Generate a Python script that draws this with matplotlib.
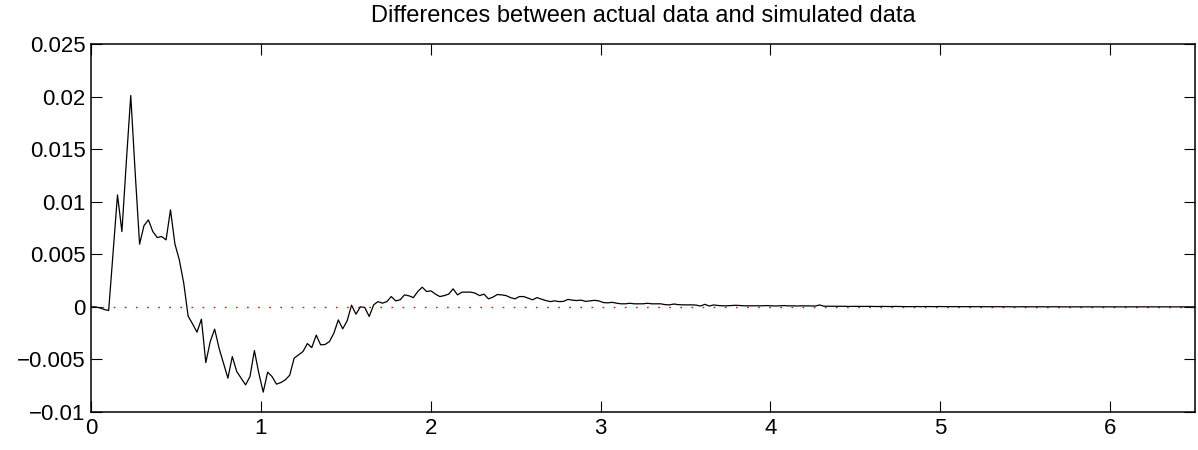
import matplotlib
matplotlib.use('Agg')
import matplotlib.pyplot as plt
import numpy as np

plt.rcParams['font.family'] = ['Liberation Sans', 'DejaVu Sans']

title_text = "Differences between actual data and simulated data"
x_start, x_end = 0.0, 6.5
y_min, y_max = -0.01, 0.025
x_ticks = [0, 1, 2, 3, 4, 5, 6]
x_tick_labels = ["0", "1", "2", "3", "4", "5", "6"]
y_ticks = [-0.01, -0.005, 0, 0.005, 0.01, 0.015, 0.02, 0.025]
y_tick_labels = ["\u22120.01", "\u22120.005", "0", "0.005", "0.01", "0.015", "0.02", "0.025"]

diff = [
    0.0, 0.0, -0.0001, -0.00025, -0.00035, 0.0052, 0.01065, 0.00716, 0.0138, 0.0201,
    0.0128, 0.00596, 0.00773, 0.00827, 0.00716, 0.00659, 0.00669, 0.00637, 0.00923, 0.00599,
    0.00447, 0.00225, -0.00089, -0.00162, -0.00241, -0.00117, -0.0053, -0.0033, -0.00212, -0.00393,
    -0.00536, -0.00678, -0.00473, -0.00615, -0.00678, -0.00742, -0.00663, -0.00416, -0.0063, -0.00811,
    -0.00621, -0.00663, -0.00735, -0.0072, -0.00694, -0.0065, -0.00488, -0.00456, -0.00425, -0.00349,
    -0.00387, -0.00269, -0.00361, -0.00358, -0.0033, -0.0025, -0.00124, -0.00209, -0.00133, 0.00016,
    -0.0007, 0.0, -0.00006, -0.00092, 0.00019, 0.0005, 0.00035, 0.0005, 0.00098, 0.00057,
    0.00067, 0.00114, 0.00105, 0.00088, 0.00146, 0.00187, 0.00146, 0.00152, 0.00121, 0.00098,
    0.00107, 0.00121, 0.00171, 0.00114, 0.0014, 0.0014, 0.0014, 0.0013, 0.00107, 0.00121,
    0.00076, 0.00092, 0.00117, 0.00114, 0.00107, 0.00088, 0.00076, 0.00098, 0.00098, 0.00083,
    0.00067, 0.00088, 0.00073, 0.0006, 0.0005, 0.00057, 0.0005, 0.00052, 0.00071, 0.00064,
    0.0006, 0.00064, 0.00052, 0.00057, 0.00062, 0.00057, 0.00041, 0.00038, 0.00043, 0.00035,
    0.00029, 0.00029, 0.00034, 0.00029, 0.00029, 0.00029, 0.00034, 0.00029, 0.00029, 0.00029,
    0.00021, 0.00019, 0.00027, 0.00021, 0.00019, 0.00019, 0.00019, 0.00017, 0.00008, 0.00024,
    0.00008, 0.00018, 0.00013, 0.0001, 0.0001, 0.00012, 0.00015, 0.00012, 0.0001, 0.0001,
    0.0001, 0.00011, 0.0001, 0.00012, 0.0001, 0.00008, 0.0001, 0.00012, 0.00009, 0.0001,
    0.00008, 0.0001, 0.00009, 0.00007, 0.00008, 0.00018, 0.00006, 0.00006, 0.00005, 0.00006,
    0.00005, 0.00005, 0.00004, 0.00005, 0.00004, 0.00004, 0.00005, 0.00004, 0.00003, 0.00004,
    0.00003, 0.00003, 0.00004, 0.00003, 0.00003, 0.00002, 0.00003, 0.00003, 0.00002, 0.00003,
    0.00002, 0.00002, 0.00003, 0.00002, 0.00002, 0.00002, 0.00001, 0.00002, 0.00002, 0.00001,
    0.00002, 0.00001, 0.00001, 0.00002, 0.00001, 0.00001, 0.00001, 0.00001, 0.00001, 0.0,
    0.00001, 0.00001, 0.0, 0.00001, 0.0, 0.00001, 0.0, 0.0, 0.00001, 0.0,
    0.0, 0.0, 0.0, 0.0, 0.0, 0.0, 0.0, 0.0, 0.0, 0.0,
    0.0, 0.0, 0.0, 0.0, 0.0, 0.0, 0.0, 0.0, 0.0, 0.0,
    0.0, 0.0, 0.0, 0.0, 0.0, 0.0, 0.0, 0.0, 0.0, 0.0, 0.0,
]
time = np.linspace(x_start, x_end, len(diff))

W, H = 1198, 450
fig = plt.figure(figsize=(W / 100, H / 100), dpi=100)
ax = fig.add_axes([91 / W, 1 - 412 / H, (1195 - 91) / W, (412 - 44) / H])

ax.axhline(0, color='#ff0000', lw=1.0, linestyle=(0, (1.2, 6.8)))
ax.plot(time, diff, color='black', lw=0.9)

ax.set_xlim(x_start, x_end)
ax.set_ylim(y_min, y_max)
ax.set_xticks(x_ticks)
ax.set_xticklabels(x_tick_labels)
ax.set_yticks(y_ticks)
ax.set_yticklabels(y_tick_labels)
ax.tick_params(direction='in', length=8, width=0.8, top=True, right=True,
               labelsize=16, colors='black')
ax.tick_params(axis='x', pad=4)
ax.tick_params(axis='y', pad=4)
for s in ax.spines.values():
    s.set_linewidth(1.1)
    s.set_color('black')

ax.set_title(title_text, fontsize=17, pad=16)

fig.savefig('out.png', dpi=100)
